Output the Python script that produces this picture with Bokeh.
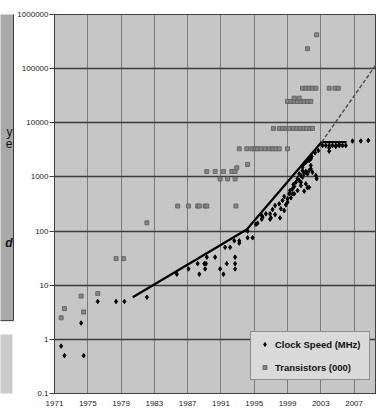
from bokeh.plotting import figure
from bokeh.models import Range1d, FixedTicker, CustomJSTickFormatter, Legend, LegendItem
from bokeh.layouts import row
from bokeh.core.properties import value
from bokeh.embed import file_html
from bokeh.resources import INLINE

# ---------------- data ----------------
x_ticks = [1971, 1975, 1979, 1983, 1987, 1991, 1995, 1999, 2003, 2007]
y_ticks = [0.1, 1, 10, 100, 1000, 10000, 100000, 1000000]
y_tick_labels = ["0.1", "1", "10", "100", "1000", "10000", "100000", "1000000"]

clock_years = [
    1971.8, 1972.2, 1974.5, 1974.2, 1976.2, 1978.4, 1979.4, 1982.1,
    1985.7, 1987.1, 1988.2, 1988.4, 1989.0, 1989.2, 1989.1, 1989.3, 1990.3,
    1990.9, 1991.3, 1991.7, 1991.5, 1992.1, 1992.7, 1992.7, 1992.7, 1992.6,
    1993.2, 1993.2, 1994.2, 1994.2, 1994.8, 1995.2, 1995.4, 1995.9, 1995.9,
    1996.4, 1996.9, 1996.9,
    1996.0, 1997.0, 1997.5, 1998.1, 1997.2, 1997.5, 1998.0, 1998.4, 1998.6,
    1998.2, 1998.8, 1999.0, 1999.2, 1999.3, 1999.6, 1999.7, 2000.0, 2000.2,
    2000.4, 2000.6, 2000.8, 2001.0, 2001.2, 2001.4, 2001.6, 2001.8, 2002.0,
    2002.4, 2002.5, 2001.0, 2001.4, 2000.6, 2000.2, 1999.8, 1999.4, 1999.0,
    1998.6, 2000.8, 2001.0, 2001.2, 2001.4, 2001.6, 2001.8, 2001.8, 2001.6,
    2001.2, 2000.6, 1999.8, 2000.4, 2000.8, 1999.6, 2001.9, 2002.3, 2002.7,
    2004.0, 2004.0, 2004.8, 2005.2,
    2003.2, 2003.6, 2004.0, 2004.4, 2004.8, 2005.2, 2005.6, 2006.0,
    2006.8, 2007.8, 2008.7,
]
clock_mhz = [
    0.75, 0.5, 0.5, 2, 5, 5, 5, 6,
    16, 20, 25, 16, 25, 25, 20, 33, 33,
    20, 16, 25, 50, 50, 33, 25, 20, 66,
    66, 60, 100, 75, 75, 133, 140, 166, 194,
    208, 208, 166,
    181, 175, 202, 175, 250, 296, 318, 367, 436,
    258, 305, 394, 488, 561, 603, 724, 800, 923,
    859, 1062, 991, 1140, 1259, 1140, 1315, 1413, 1225,
    1062, 923, 546, 630, 695, 561, 488, 411, 342,
    240, 1514, 1746, 1875, 2009, 2009, 2158, 1626, 647,
    745, 800, 665, 1140, 1315, 488, 2400, 2800, 3060,
    3440, 2990, 3650, 3920,
    3800, 3800, 3800, 3800, 3800, 3800, 3800, 3800,
    4600, 4600, 4700,
]

trans_years = [
    1971.8, 1972.2, 1974.2, 1974.5, 1976.2, 1978.4, 1979.3, 1982.1,
    1985.8, 1987.1, 1988.2, 1988.4, 1989.1, 1989.3, 1992.8,
    1989.3, 1990.3, 1991.3, 1992.3, 1992.7,
    1990.9, 1991.8, 1992.7,
    1992.9, 1994.2,
    1993.2, 1994.1, 1994.7, 1995.1, 1995.4, 1995.8, 1996.3, 1996.8, 1997.2,
    1997.6, 1998.0, 1999.0,
    1997.3, 1998.0, 1998.4, 1998.8, 1999.2, 1999.7, 2000.1, 2000.5, 2000.9,
    2001.3, 2001.7, 2002.0,
    1999.0, 1999.4, 1999.8, 2000.2, 2000.6, 2001.0, 2001.4, 2001.8,
    1999.8, 2000.4,
    2000.8, 2001.2, 2001.6, 2002.0, 2002.4, 2004.0, 2004.7, 2005.1,
    2001.4, 2002.5,
]
trans_k = [
    2.5, 3.7, 6.3, 3.2, 7.0, 31, 31, 142,
    290, 290, 290, 290, 290, 290, 290,
    1260, 1260, 1260, 1260, 1260,
    916, 916, 916,
    1475, 1700,
    3310, 3310, 3310, 3310, 3310, 3310, 3310, 3310, 3310,
    3310, 3310, 3310,
    7850, 7850, 7850, 7850, 7850, 7850, 7850, 7850, 7850,
    7850, 7850, 7850,
    24800, 24800, 24800, 24800, 24800, 24800, 24800, 24800,
    28500, 28500,
    43500, 43500, 43500, 43500, 43500, 43500, 43500, 43500,
    233000, 422000,
]

trend_years = [1980.4, 1994.1, 2003.1, 2006.1]
trend_vals = [6, 107, 4400, 4400]
proj_years = [2003.1, 2009.69]
proj_vals = [4400, 122000]

FONT = "Liberation Sans"

# ---------------- main chart ----------------
p = figure(width=362, height=411,
           x_range=Range1d(1971, 2009.69), y_range=Range1d(0.1, 1e6),
           y_axis_type="log", output_backend="svg", toolbar_location=None,
           min_border_left=38, min_border_right=0, min_border_top=14,
           min_border_bottom=18)
p.background_fill_color = "#c6c6c6"
p.border_fill_color = "white"
p.outline_line_color = "#404040"
p.outline_line_width = 1

p.xaxis.ticker = FixedTicker(ticks=x_ticks)
p.xgrid.ticker = FixedTicker(ticks=x_ticks)
p.yaxis.ticker = FixedTicker(ticks=y_ticks)
p.ygrid.ticker = FixedTicker(ticks=y_ticks)
p.yaxis.formatter = CustomJSTickFormatter(
    args=dict(vals=y_ticks, labs=y_tick_labels),
    code="""
    for (let i = 0; i < vals.length; i++) {
        if (Math.abs(Math.log10(tick) - Math.log10(vals[i])) < 1e-6) return labs[i];
    }
    return "";
    """)

p.xgrid.grid_line_color = "#7c7c7c"
p.xgrid.grid_line_width = 1
p.ygrid.grid_line_color = "#3c3c3c"
p.ygrid.grid_line_width = 1.5

for ax in (p.xaxis, p.yaxis):
    ax.axis_line_color = "#404040"
    ax.major_tick_line_color = "#404040"
    ax.minor_tick_line_color = None
    ax.major_label_text_font = FONT
    ax.major_label_text_font_size = "8px"
    ax.major_label_text_color = "#222222"
p.yaxis.major_tick_out = 5
p.yaxis.major_tick_in = 0
p.yaxis.major_label_standoff = 1
p.xaxis.major_tick_out = 0
p.xaxis.major_tick_in = 0
p.xaxis.major_label_standoff = 7

p.line(trend_years, trend_vals, line_color="black", line_width=2.2)
p.line(proj_years, proj_vals, line_color="#505050", line_width=1.5, line_dash="4 2")

r_tr = p.scatter(trans_years, trans_k, marker="square", size=4,
                 fill_color="#858585", line_color="#5a5a5a", line_width=0.8)
r_ck = p.scatter(clock_years, clock_mhz, marker="diamond", size=4.5,
                 fill_color="black", line_color="black")

legend = Legend(items=[LegendItem(label="Clock Speed (MHz)", renderers=[r_ck]),
                       LegendItem(label="Transistors (000)", renderers=[r_tr])],
                location=(196, 13))
legend.background_fill_color = "#dadada"
legend.background_fill_alpha = 1
legend.border_line_color = "#404040"
legend.border_line_width = 1
legend.padding = 5
legend.spacing = 9
legend.margin = 0
legend.glyph_width = 17
legend.glyph_height = 10
legend.label_height = 14
legend.label_width = 89
legend.label_standoff = 2
legend.label_text_font = FONT
legend.label_text_font_style = "bold"
legend.label_text_font_size = "9.5px"
legend.label_text_color = "#111111"
p.add_layout(legend)

# ---------------- left strip (cut-off text panel) ----------------
lf = figure(width=14, height=411, x_range=Range1d(0, 14), y_range=Range1d(411, 0),
            output_backend="svg", toolbar_location=None, min_border=0)
lf.outline_line_color = None
lf.axis.visible = False
lf.grid.visible = False
lf.background_fill_color = "white"
lf.border_fill_color = "white"
lf.quad(left=-3, right=13, top=-10, bottom=332, fill_color="#a9a9a9",
        line_color="#3a3a3a", line_width=1)
lf.quad(left=-3, right=12, top=347, bottom=415, fill_color="#cbcbcb", line_color=None)
lf.text(x=[12, 12], y=[127, 140], text=["y", "e"], text_align="right",
        text_baseline="middle", text_font=value(FONT), text_font_size="12px",
        text_color="#111111")
lf.text(x=[12], y=[248], text=["d"], text_align="right", text_baseline="middle",
        text_font=value(FONT), text_font_size="12px", text_font_style="bold italic",
        text_color="#111111")

layout = row(lf, p, spacing=0)
open("out.html", "w").write(file_html(layout, INLINE))
